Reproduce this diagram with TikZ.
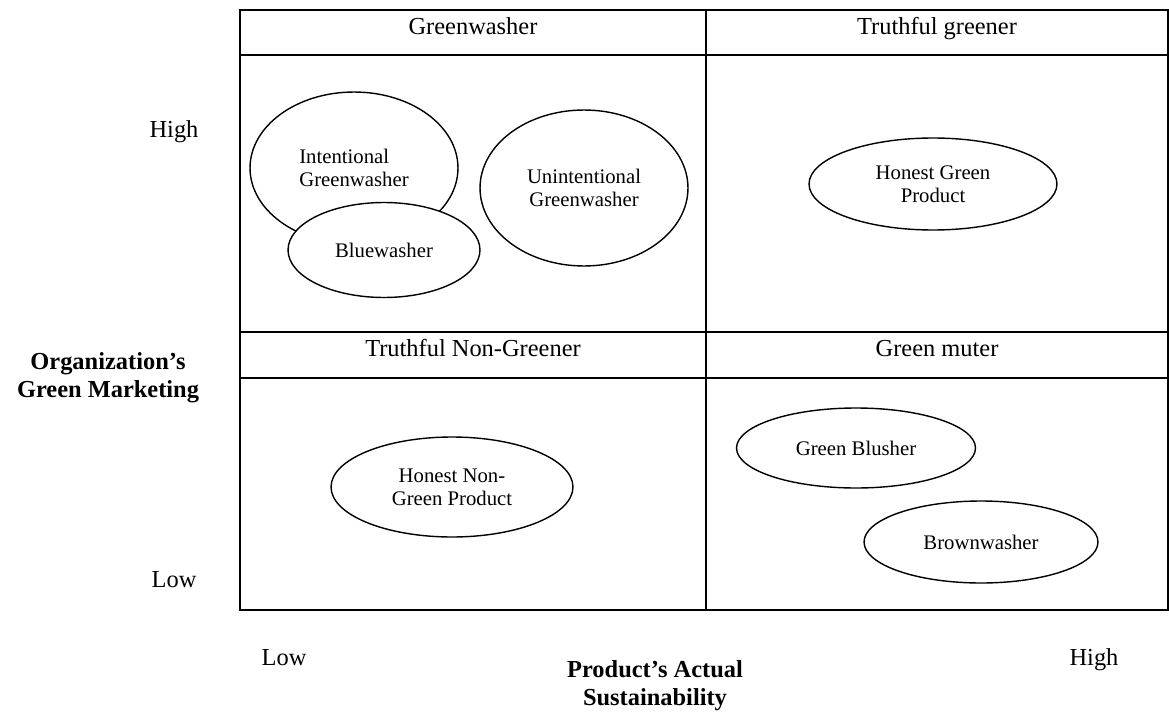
\documentclass[tikz,border=0pt]{standalone}
\usepackage{fontspec}
\setmainfont{Liberation Serif}
\usepackage{tikz}
\usetikzlibrary{positioning,shapes.geometric}

\begin{document}
\begin{tikzpicture}[
  x=0.02cm, y=-0.02cm,
  oval/.style={ellipse, draw, thick, fill=white, inner sep=0pt, align=center,
               font=\fontsize{11.8}{13}\selectfont},
  header/.style={font=\fontsize{13.9}{16}\selectfont, text height=1.6ex, text depth=0.45ex},
  axis/.style={font=\fontsize{13.9}{16}\selectfont, text height=1.6ex, text depth=0.45ex},
  axistitle/.style={font=\fontsize{13.9}{15.9}\selectfont\bfseries, align=center}
]
\useasboundingbox (0,0) rectangle (1169,713);

% grid
\draw[thick] (240,10) rectangle (1168,610);
\draw[thick] (706,10) -- (706,610);
\draw[thick] (240,55) -- (1168,55);
\draw[thick] (240,332) -- (1168,332);
\draw[thick] (240,378) -- (1168,378);

% quadrant headers
\node[header] (gw) at (473,30) {Greenwasher};
\node[header] (tg) at (937,30) {Truthful greener};
\node[header] (tng) at (473,352) {Truthful Non-Greener};
\node[header] (gm) at (937,352) {Green muter};

% ellipses
\node[oval, minimum width=4.16cm, minimum height=3.04cm, align=left] (igw) at (354,168) {Intentional\\Greenwasher};
\node[oval, minimum width=3.84cm, minimum height=1.9cm] (bw) at (384,250) {Bluewasher};
\node[oval, minimum width=4.16cm, minimum height=3.12cm] (ugw) at (584,188) {Unintentional\\Greenwasher};
\node[oval, minimum width=4.96cm, minimum height=1.84cm] (hgp) at (933,184) {Honest Green\\Product};
\node[oval, minimum width=4.84cm, minimum height=2.0cm] (hngp) at (452,487) {Honest Non-\\Green Product};
\node[oval, minimum width=4.78cm, minimum height=1.6cm] (gb) at (856,448) {Green Blusher};
\node[oval, minimum width=4.68cm, minimum height=1.64cm] (brw) at (981,542) {Brownwasher};

% axes
\node[axis] (yhigh) at (174,133) {High};
\node[axis] (ylow) at (174,583) {Low};
\node[axistitle] (ytitle) at (108,378) {Organization’s\\Green Marketing};
\node[axis] (xlow) at (284,661) {Low};
\node[axis] (xhigh) at (1094,661) {High};
\node[axistitle] (xtitle) at (655,686) {Product’s Actual\\Sustainability};

\end{tikzpicture}
\end{document}
